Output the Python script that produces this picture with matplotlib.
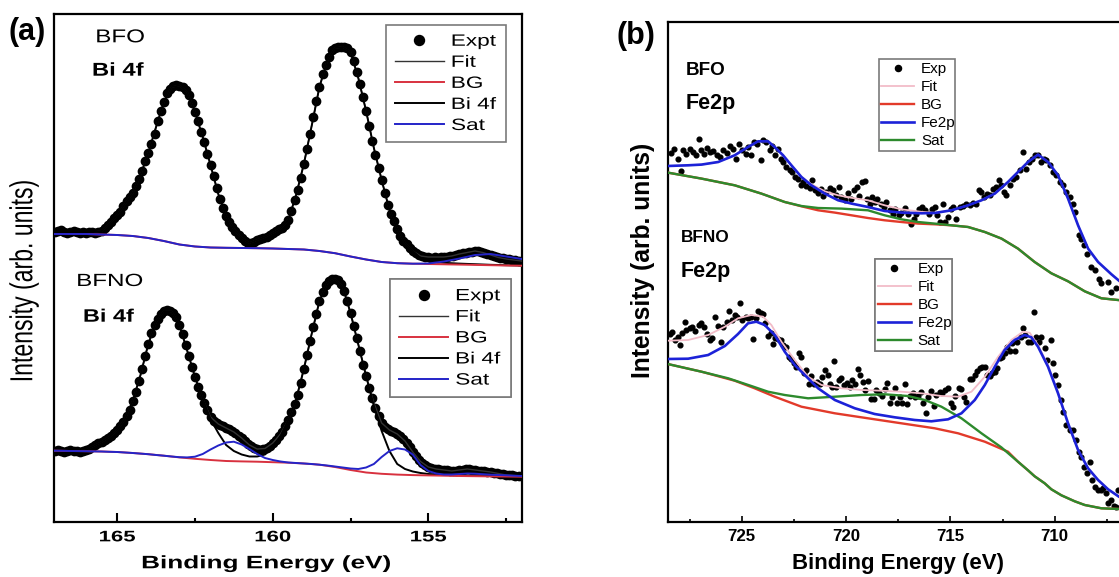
import numpy as np
import matplotlib
matplotlib.use("Agg")
import matplotlib.pyplot as plt
from matplotlib.patheffects import AbstractPathEffect
from matplotlib.transforms import Affine2D
from matplotlib.ticker import FixedLocator

plt.rcParams['font.family'] = ['Liberation Sans', 'DejaVu Sans']

W, H = 1119, 577

# ---------------------------------------------------------------------------
# (a) Bi 4f core level.  Energies in eV, intensities in arbitrary units.
# ---------------------------------------------------------------------------
bi_grid_fine = np.linspace(167.0, 152.0, 151)    # 0.1 eV measurement step
bi_grid_mid = np.linspace(167.0, 152.0, 61)      # 0.25 eV
bi_grid_coarse = np.linspace(167.0, 152.0, 31)   # 0.5 eV

bfo_bi_expt = [
    290, 291, 292, 290, 289, 290, 291, 290, 289, 290, 289, 290, 290, 289, 290, 291,
    294, 297, 300, 304, 307, 310, 316, 321, 325, 329, 336, 343, 351, 361, 369,
    378, 388, 401, 411, 420, 429, 433, 436, 437, 436.5, 435, 432, 427, 419, 410,
    401, 390, 380, 368, 357, 346, 334, 323, 314, 306, 300, 295, 291, 287, 284,
    281, 279, 279, 280, 282, 283, 284, 285, 287, 289,
    291, 293, 294, 297, 302, 311, 322, 332, 344, 358, 373, 388, 405, 421, 435,
    448, 457, 465, 472, 474, 475, 475, 475, 474, 470, 461, 450, 438, 425, 411,
    396, 381, 367, 354, 342, 329, 317, 308, 301, 293, 286, 281, 278, 274, 271,
    269, 267, 266, 265, 265,
    264, 265, 264, 265, 265, 265, 266, 266, 267, 268, 269, 269, 270, 270, 271,
    271, 270, 269, 268, 267, 266, 265, 264, 264, 263, 263, 262, 262, 261, 261,
]
bfo_bi_fit = [
    290, 290, 290, 290, 290, 290, 291, 298, 307, 318, 329, 347, 369, 395, 420,
    435, 436.5, 430, 410, 385, 357, 328, 306, 293, 284, 279, 282, 285, 289, 293.5,
    302, 327, 358, 396, 435, 461, 474, 475, 470, 444, 411, 374, 342, 312, 293,
    279, 271, 266, 265, 265, 265, 266, 268, 269.5, 271, 269.5, 267, 264.5, 263,
    262, 261,
]
bfo_bi_comp = [
    290, 290, 290, 290, 290, 290, 291, 298, 307, 318, 329, 347, 369, 395, 420,
    435, 436.5, 430, 410, 385, 357, 328, 306, 293, 284, 279, 282, 285, 289, 293.5,
    302, 327, 358, 396, 435, 461, 474, 475, 470, 444, 411, 374, 342, 312, 293,
    279, 271, 264, 261, 259.8, 259.2, 258.8, 258.4, 258.1, 257.8, 257.5, 257.2,
    257, 256.8, 256.6, 256.4,
]
bfo_bi_bg = [
    288, 288, 288, 287.5, 287, 286, 284, 281, 277.5, 275.5, 274.5, 274.2, 274,
    273.8, 273.5, 273, 272.5, 271, 268.8, 265.5, 262.5, 260, 258.8, 258.3, 258,
    257.7, 257.4, 257.1, 256.8, 256.5, 256.3,
]
bfo_bi_sat = [
    288, 288, 288, 287.5, 287, 286, 284, 281, 277.5, 275.5, 274.5, 274.2, 274,
    273.8, 273.5, 273, 272.5, 271, 268.8, 265.5, 262.5, 260, 258.8, 258.3, 258.5,
    260.5, 263.5, 267, 268, 265.5, 263,
]

bfno_bi_expt = [
    71, 72, 71, 70, 71, 72, 71, 71, 70, 71, 72,
    73, 75, 77, 79, 80, 82, 84, 86, 89, 92,
    96, 100, 106, 112, 121, 130, 141, 153, 166, 178,
    189, 197, 203, 208, 211, 212, 211.5, 209, 205, 197,
    188, 177, 166, 155, 145, 135, 127, 119, 112, 105,
    101, 99, 97, 96, 94, 93, 91, 89, 86, 84,
    81, 78, 76, 74, 73, 72.5, 73, 74, 76, 79,
    82, 86, 90, 96, 102, 110, 118, 127, 139, 153,
    167, 181, 195, 208, 221, 230, 237, 241, 243, 243,
    242, 238, 231, 221, 209, 196, 184, 171, 157, 146,
    134, 124, 114, 106, 99, 95, 93, 91, 90, 88,
    86, 83, 79, 75, 70, 66, 62, 59, 57, 55,
    54, 53, 53, 52, 52, 52, 51, 51, 51, 52,
    52, 53, 53, 52, 52, 51, 51, 51, 50, 50,
    49, 49, 48, 48, 47, 47, 47, 46, 46, 46,
]
bfno_bi_fit = [
    71, 71, 71, 71, 72, 76, 80, 85, 92, 103, 121, 147, 178, 200, 211, 210.5,
    197, 171.5, 145, 123, 105, 98, 94, 90, 84, 77, 73, 73.5, 79, 88, 102, 122.5,
    153, 188, 221, 239, 243, 235, 209, 177.5, 146, 119, 99, 92, 88, 81, 70, 60.5,
    55, 53, 52, 51, 52, 53, 52, 51, 50, 48.5, 47, 46.5, 46,
]
bfno_bi_comp = [
    71, 71, 71, 71, 72, 76, 80, 85, 92, 103, 121, 147, 178, 200, 211, 210.5,
    197, 171.5, 145, 123,
    103, 89, 77, 71, 67.5, 65.5, 65.5, 67.5, 74, 86,
    102, 122.5, 153, 188, 221, 239, 243, 235, 209, 177.5, 146,
    116, 91, 71, 58, 53, 50.5, 49, 48, 47.5, 47.2, 47, 46.8, 46.6, 46.4, 46.2,
    46, 45.9, 45.8, 45.7, 45.6,
]
bfno_bi_bg = [
    71.3, 71, 70.8, 70.5, 70, 69, 67.8, 66.3, 64.6, 63.2, 62, 61, 60.6, 60.3,
    59.8, 59.3, 58.5, 57.3, 55, 52, 49.5, 48.2, 47.4, 46.9, 46.6, 46.3, 46, 45.8,
    45.6, 45.5, 45.3,
]
bfno_bi_sat = [
    71.3, 71.2, 71, 70.9, 70.8, 70.6, 70.5, 70.2, 70, 69.5, 69, 68.4, 67.8, 67,
    66.3, 65.5, 64.8, 64.6, 65.3, 68, 72.5, 76.5, 79.5, 80.3, 77.5, 73, 68, 64,
    62, 60.5, 59.5, 59, 58.5, 58, 57.3, 56.5, 55.5, 54.5, 53.5, 53, 54.5, 58, 65,
    71, 73.7, 72.5, 67.5, 57, 51, 48.5, 47.5, 47.5, 48, 48.5, 48.3, 47.8, 47.3,
    47, 46.7, 46.3, 46,
]

# ---------------------------------------------------------------------------
# (b) Fe 2p core level.
# ---------------------------------------------------------------------------
bfo_fe_exp_e = [
    728.40, 728.24, 728.08, 727.92, 727.81, 727.65, 727.49, 727.33, 727.17, 727.06,
    726.93, 726.80, 726.69, 726.53, 726.37, 726.21, 726.05, 725.89, 725.73, 725.57,
    725.41, 725.26, 725.14, 724.98, 724.82, 724.70, 724.54, 724.41, 724.25, 724.09,
    723.98, 723.82, 723.66, 723.55, 723.39, 723.26, 723.13, 723.02, 722.86, 722.70,
    722.59, 722.46, 722.30, 722.17, 722.06, 721.90, 721.74, 721.63, 721.50, 721.34,
    721.21, 721.09, 720.94, 720.78, 720.62, 720.46, 720.35, 720.22, 720.06, 719.90,
    719.78, 719.62, 719.50, 719.39, 719.26, 719.11, 718.98, 718.87, 718.75, 718.63,
    718.50, 718.34, 718.18, 718.07, 717.91, 717.75, 717.64, 717.48, 717.35, 717.16,
    717.03, 716.90, 716.74, 716.63, 716.52, 716.36, 716.20, 716.04, 715.88, 715.75,
    715.62, 715.51, 715.35, 715.24, 715.11, 714.98, 714.87, 714.71, 714.55, 714.39,
    714.23, 714.07, 713.91, 713.75, 713.64, 713.51, 713.39, 713.23, 713.10, 712.95,
    712.80, 712.68, 712.56, 712.43, 712.32, 712.16, 712.00, 711.84, 711.68, 711.52,
    711.36, 711.25, 711.09, 710.96, 710.80, 710.64, 710.51, 710.40, 710.24, 710.08,
    709.92, 709.76, 709.60, 709.44, 709.28, 709.12, 709.01, 708.85, 708.75, 708.59,
    708.43, 708.27, 708.08, 707.89, 707.76, 707.44, 707.28, 707.04,
]
bfo_fe_exp_i = [
    369.6, 373.6, 363.6, 351.0, 372.0, 368.6, 373.6, 370.3, 367.0, 383.0,
    372.0, 368.6, 374.3, 370.3, 371.0, 367.0, 365.3, 372.0, 369.6, 376.3,
    373.0, 363.6, 378.3, 372.0, 368.6, 375.3, 367.0, 380.3, 378.6, 362.0,
    382.0, 380.3, 372.0, 376.3, 367.0, 373.6, 363.6, 360.3, 355.3, 352.0,
    350.3, 345.3, 343.6, 337.0, 340.3, 336.3, 334.3, 342.0, 332.0, 329.6,
    333.6, 326.3, 330.3, 334.3, 332.0, 327.0, 335.3, 325.3, 322.0, 329.6,
    323.6, 332.0, 335.3, 326.3, 340.3, 341.0, 323.6, 318.6, 325.3, 320.3,
    323.6, 318.6, 315.3, 320.3, 312.0, 308.6, 313.6, 307.0, 309.6, 314.3,
    308.6, 298.6, 303.6, 308.6, 313.6, 315.3, 312.0, 308.6, 313.6, 315.3,
    307.0, 300.3, 318.6, 300.3, 305.3, 313.6, 315.3, 303.6, 315.3, 316.3,
    318.6, 317.6, 319.6, 318.6, 332.0, 330.3, 325.3, 328.6, 327.0, 333.6,
    335.3, 342.0, 337.0, 330.3, 327.0, 337.0, 343.6, 345.3, 352.0, 370.3,
    353.6, 360.3, 363.6, 367.0, 367.6, 360.3, 363.6, 362.0, 357.0, 350.3,
    347.0, 340.3, 337.0, 330.3, 325.3, 318.6, 310.3, 287.0, 283.6, 277.0,
    268.6, 255.3, 252.0, 243.6, 239.0, 240.6, 230.6, 233.9,
]
bfo_fe_line_e = [
    728.55, 727.57, 726.93, 726.13, 725.34, 724.70, 724.22, 723.74, 723.42, 723.02,
    722.62, 722.14, 721.66, 721.02, 720.38, 719.74, 718.95, 718.15, 717.35, 716.39,
    715.75, 714.95, 714.15, 713.51, 712.87, 712.24, 711.76, 711.28, 710.80, 710.32,
    709.84, 709.36, 708.88, 708.40, 707.92, 707.28, 706.6,
]
bfo_fe_fe2p = [
    356.3, 357, 357.7, 360.3, 367, 375.3, 381, 381, 375.3, 367,
    357, 345.3, 337, 328.7, 322, 318.7, 315.3, 311.3, 309.7, 309,
    309.3, 312, 317, 322, 328.7, 340.3, 350.3, 360.3, 367.7, 360.3,
    347, 323.7, 297, 273.7, 260.3, 248, 236,
]
bfo_fe_fit = [
    356.3, 357, 357.7, 360.3, 367, 375.3, 381, 381, 375.3, 367,
    357, 345.3, 338, 331, 327, 324.5, 322, 317, 313, 310.5,
    309.5, 312, 317, 322, 328.7, 340.3, 350.3, 360.3, 367.7, 360.3,
    347, 323.7, 297, 273.7, 260.3, 248, 236,
]
bfo_fe_sat_e = [
    728.55, 726.93, 725.34, 724.06, 722.94, 722.14, 721.34, 720.22, 718.95, 718.15,
    717.35, 716.55, 715.75, 714.95, 714.15, 713.35, 712.55, 711.76, 710.96, 710.16,
    709.36, 708.56, 707.76, 706.6,
]
bfo_fe_sat = [
    349.7, 343.7, 337, 328.7, 320.3, 316.3, 314.3, 313.7, 312, 307,
    303, 300.3, 298.7, 297, 295.3, 290.3, 283.7, 273.7, 260.3, 249,
    241, 231, 224, 221.5,
]
bfo_fe_bg_e = [
    728.55, 726.93, 725.34, 724.06, 722.94, 722.14, 721.34, 720.54, 719.74, 718.95,
    718.15, 717.35, 716.55, 715.75, 714.95, 714.15, 713.35, 712.55, 711.76, 710.96,
    710.16, 709.36, 708.56, 707.76, 706.6,
]
bfo_fe_bg = [
    349.7, 343.7, 337, 328.7, 320.3, 316, 312, 309.7, 307, 304.3,
    302, 300.3, 298.7, 298, 297, 295.3, 290.3, 283.7, 273.7, 260.3,
    249, 241, 231, 224, 221.5,
]

bfno_fe_exp_e = [
    728.45, 728.34, 728.21, 728.08, 727.97, 727.86, 727.73, 727.65, 727.49, 727.38,
    727.22, 727.06, 726.93, 726.80, 726.69, 726.53, 726.42, 726.26, 726.13, 726.01,
    725.89, 725.73, 725.62, 725.49, 725.34, 725.21, 725.10, 724.98, 724.82, 724.70,
    724.57, 724.44, 724.34, 724.22, 724.09, 723.98, 723.87, 723.74, 723.61, 723.50,
    723.39, 723.26, 723.13, 723.02, 722.86, 722.75, 722.62, 722.49, 722.38, 722.27,
    722.14, 722.01, 721.90, 721.79, 721.66, 721.53, 721.41, 721.26, 721.13, 721.02,
    720.89, 720.78, 720.67, 720.59, 720.46, 720.35, 720.22, 720.10, 719.97, 719.82,
    719.71, 719.55, 719.42, 719.33, 719.18, 719.07, 718.95, 718.79, 718.66, 718.55,
    718.43, 718.27, 718.15, 718.02, 717.91, 717.80, 717.67, 717.54, 717.43, 717.32,
    717.19, 717.06, 716.95, 716.79, 716.68, 716.55, 716.42, 716.29, 716.15, 716.07,
    715.91, 715.78, 715.67, 715.51, 715.40, 715.24, 715.11, 714.98, 714.87, 714.76,
    714.60, 714.47, 714.34, 714.23, 714.07, 713.96, 713.83, 713.71, 713.59, 713.48,
    713.35, 713.23, 713.11, 713.00, 712.88, 712.75, 712.64, 712.52, 712.40, 712.27,
    712.16, 712.04, 711.92, 711.79, 711.63, 711.52, 711.41, 711.28, 711.12, 710.99,
    710.88, 710.77, 710.64, 710.48, 710.35, 710.19, 710.08, 709.97, 709.84, 709.71,
    709.60, 709.44, 709.28, 709.12, 708.96, 708.85, 708.72, 708.59, 708.43, 708.32,
    708.21, 708.08, 707.92, 707.80, 707.68, 707.52, 707.44, 707.28, 707.16, 707.04,
    706.96,
]
bfno_fe_exp_i = [
    188.3, 190.6, 182.3, 185.6, 177.3, 189.6, 200.6, 192.3, 194.0, 195.6,
    191.6, 197.3, 199.0, 195.0, 188.3, 182.3, 184.0, 205.0, 196.3, 180.6,
    195.6, 200.6, 211.6, 202.3, 207.3, 205.6, 219.0, 202.3, 205.6, 204.0,
    205.0, 183.0, 204.0, 211.6, 209.0, 208.3, 199.0, 186.3, 189.6, 178.3,
    184.0, 183.0, 182.3, 177.3, 175.6, 165.0, 163.0, 159.0, 155.0, 169.0,
    165.6, 149.0, 152.3, 138.3, 146.3, 138.3, 140.6, 138.3, 145.0, 152.3,
    147.3, 138.3, 135.0, 161.6, 135.6, 142.3, 144.0, 137.3, 139.0, 135.0,
    142.3, 138.3, 153.0, 147.3, 140.6, 132.3, 141.6, 123.0, 123.0, 132.3,
    129.0, 126.3, 133.0, 139.6, 119.0, 125.6, 134.6, 119.0, 125.6, 119.0,
    138.3, 118.3, 126.3, 129.0, 125.6, 126.3, 130.6, 119.0, 109.6, 125.6,
    131.6, 116.3, 127.3, 130.6, 129.6, 132.3, 134.0, 119.0, 115.6, 126.3,
    134.0, 133.6, 125.0, 120.6, 143.0, 143.0, 147.3, 151.6, 154.0, 155.0,
    155.0, 147.3, 146.3, 149.6, 150.3, 154.0, 164.0, 165.6, 169.0, 175.0,
    171.6, 179.0, 171.6, 180.6, 185.6, 194.0, 187.3, 180.6, 180.6, 210.6,
    185.6, 180.6, 185.0, 174.0, 162.3, 182.3, 159.0, 147.3, 137.3, 122.3,
    110.6, 97.3, 92.3, 92.3, 82.3, 70.6, 65.6, 55.6, 49.0, 60.6,
    42.3, 35.6, 32.3, 32.3, 34.0, 29.0, 19.0, 22.3, 16.3, 15.6, 32.3,
]
bfno_fe_fe2p_e = [
    728.55, 727.57, 726.61, 725.81, 725.18, 724.70, 724.30, 723.90, 723.42, 722.94,
    722.46, 721.98, 721.34, 720.54, 719.58, 718.63, 717.67, 716.71, 715.91, 715.11,
    714.47, 713.83, 713.35, 712.87, 712.40, 711.92, 711.44, 711.12, 710.80, 710.32,
    709.84, 709.36, 708.88, 708.40, 707.92, 707.44, 706.92, 706.6,
]
bfno_fe_fe2p = [
    163.3, 163.6, 167.3, 176.3, 188.3, 199, 200.6, 197.3, 187.3, 170.6,
    157.3, 147.3, 134, 122.3, 114, 108.3, 105, 102.3, 101, 103,
    109, 122.3, 137.3, 155.6, 172.3, 182.3, 187.3, 185, 175.6, 155.6,
    129, 99, 72.3, 54, 42.3, 33, 25.6, 22,
]
bfno_fe_fit_e = [
    728.55, 727.57, 726.61, 725.81, 725.18, 724.54, 723.98, 723.58, 723.10, 722.46,
    721.82, 721.18, 720.22, 719.26, 718.31, 717.35, 716.39, 715.43, 714.63, 713.99,
    713.35, 712.71, 712.08, 711.52, 711.20, 710.80, 710.32, 709.84, 709.36, 708.88,
    708.40, 707.92, 707.44, 706.92, 706.6,
]
bfno_fe_fit = [
    181.6, 182.3, 187.3, 195.6, 204, 207.3, 205.6, 197.3, 180.6, 162.3,
    145.6, 137.3, 134, 132.3, 131.6, 130.6, 129, 126.3, 125.6, 130.6,
    145.6, 165.6, 182.3, 190.6, 189.6, 177.3, 157, 130, 99.5, 72.5,
    54, 42.3, 33, 25.6, 22,
]
bfno_fe_sat_e = [
    728.55, 726.93, 725.65, 724.54, 723.74, 722.94, 721.82, 720.54, 719.26, 718.15,
    717.03, 716.23, 715.43, 714.47, 713.51, 712.56, 711.76, 711.28, 710.96, 710.48,
    710.16, 709.68, 709.36, 709.04, 708.56, 707.76, 706.92, 706.6,
]
bfno_fe_sat = [
    158.3, 150.6, 144, 136.3, 130.6, 127.3, 124, 125.6, 127.3, 128,
    126.3, 122.3, 115.6, 104, 89, 75, 60.6, 52, 46, 39,
    33, 27, 24, 21, 17.3, 14, 13.3, 13.2,
]
bfno_fe_bg_e = [
    728.55, 726.93, 725.34, 724.38, 723.42, 722.14, 720.54, 718.95, 717.35, 715.75,
    714.63, 713.35, 712.24, 711.76, 711.28, 710.96, 710.48, 710.16, 709.68, 709.36,
    709.04, 708.56, 707.76, 706.92, 706.6,
]
bfno_fe_bg = [
    158.3, 150.6, 141.6, 134, 125.6, 115.6, 109, 104, 99, 94,
    89, 80.6, 70.6, 60.6, 52, 46, 39, 33, 27, 24,
    21, 17.3, 14, 13.3, 13.2,
]

bi_ticks = [165, 160, 155]
bi_minor = [162.5, 157.5, 152.5]
fe_ticks = [725, 720, 715, 710]
fe_minor = [727.5, 722.5, 717.5, 712.5, 707.5]


class WideGlyphs(AbstractPathEffect):
    """Draw text glyphs widened along the display x direction."""

    def __init__(self, factor, anchor="center"):
        super().__init__()
        self.factor = factor
        self.anchor = anchor

    def draw_path(self, renderer, gc, tpath, affine, rgbFace=None):
        box = tpath.get_extents(affine)
        if self.anchor == "left":
            x0 = box.x0
        elif self.anchor == "right":
            x0 = box.x1
        else:
            x0 = 0.5 * (box.x0 + box.x1)
        widen = Affine2D().translate(-x0, 0).scale(self.factor, 1.0).translate(x0, 0)
        renderer.draw_path(gc, tpath, affine + widen, rgbFace)


def place(x0, y0, x1, y1):
    return [x0 / W, 1 - y1 / H, (x1 - x0) / W, (y1 - y0) / H]


def fpos(px, py):
    return px / W, 1 - py / H


fig = plt.figure(figsize=(W / 100, H / 100), dpi=100)
ax_a = fig.add_axes(place(54, 14, 522, 522))
ax_b = fig.add_axes(place(667.7, 22, 1125, 522.3))

BLACK = '#000000'
RED_A = '#d8313f'
BLUE_A = '#2424c8'
RED_B = '#e23a2a'
BLUE_B = '#1c22d8'
GREEN_B = '#2d8a2d'
PINK_B = '#f2bcc8'

# ----------------------------- panel (a) -----------------------------------
def bi_spectrum(ax, expt, fit, comp, bg, sat, sat_grid):
    h_exp, = ax.plot(bi_grid_fine, expt, 'o', ms=6.0, color=BLACK, mec=BLACK, zorder=2)
    h_fit, = ax.plot(bi_grid_mid, fit, '-', lw=1.0, color='#333333', zorder=3)
    h_cmp, = ax.plot(bi_grid_mid, comp, '-', lw=1.4, color=BLACK, zorder=3)
    h_bg, = ax.plot(bi_grid_coarse, bg, '-', lw=1.4, color=RED_A, zorder=4)
    h_sat, = ax.plot(sat_grid, sat, '-', lw=1.4, color=BLUE_A, zorder=5)
    return [h_exp, h_fit, h_bg, h_cmp, h_sat]


top_a = bi_spectrum(ax_a, bfo_bi_expt, bfo_bi_fit, bfo_bi_comp, bfo_bi_bg,
                    bfo_bi_sat, bi_grid_coarse)
bot_a = bi_spectrum(ax_a, bfno_bi_expt, bfno_bi_fit, bfno_bi_comp, bfno_bi_bg,
                    bfno_bi_sat, bi_grid_mid)

ax_a.set_xlim(167.03, 151.99)
ax_a.set_ylim(0, 508)

labels_a = ['Expt', 'Fit', 'BG', 'Bi 4f', 'Sat']
for handles, (ax0, top) in ((top_a, (0.7088, 0.9789)), (bot_a, (0.7179, 0.4778))):
    leg = ax_a.legend(handles, labels_a, loc='upper left',
                      bbox_to_anchor=(ax0, top, 0.258, 0.0), mode='expand',
                      borderaxespad=0, fontsize=11.8, numpoints=1, markerscale=1.2,
                      handlelength=3.0, handletextpad=0.45, labelspacing=0.37,
                      borderpad=0.55, fancybox=False, framealpha=1,
                      edgecolor='#7a7a7a')
    leg.get_frame().set_linewidth(1.2)
    for t in leg.get_texts():
        t.set_path_effects([WideGlyphs(1.38, 'left')])
    ax_a.add_artist(leg)

# ----------------------------- panel (b) -----------------------------------
def fe_spectrum(ax, exp_e, exp_i, fit_e, fit, bg_e, bg, fe_e, fe, sat_e, sat):
    h_exp, = ax.plot(exp_e, exp_i, 'o', ms=3.4, color=BLACK, mec=BLACK, zorder=2)
    h_fit, = ax.plot(fit_e, fit, '-', lw=1.3, color=PINK_B, zorder=3)
    h_bg, = ax.plot(bg_e, bg, '-', lw=1.7, color=RED_B, zorder=4)
    h_sat, = ax.plot(sat_e, sat, '-', lw=1.7, color=GREEN_B, zorder=5)
    h_fe, = ax.plot(fe_e, fe, '-', lw=1.9, color=BLUE_B, zorder=6)
    return [h_exp, h_fit, h_bg, h_fe, h_sat]


top_b = fe_spectrum(ax_b, bfo_fe_exp_e, bfo_fe_exp_i, bfo_fe_line_e, bfo_fe_fit,
                    bfo_fe_bg_e, bfo_fe_bg, bfo_fe_line_e, bfo_fe_fe2p,
                    bfo_fe_sat_e, bfo_fe_sat)
bot_b = fe_spectrum(ax_b, bfno_fe_exp_e, bfno_fe_exp_i, bfno_fe_fit_e, bfno_fe_fit,
                    bfno_fe_bg_e, bfno_fe_bg, bfno_fe_fe2p_e, bfno_fe_fe2p,
                    bfno_fe_sat_e, bfno_fe_sat)

ax_b.set_xlim(728.55, 706.63)
ax_b.set_ylim(0, 500.3)

labels_b = ['Exp', 'Fit', 'BG', 'Fe2p', 'Sat']
for handles, (bx0, top) in ((top_b, (0.4614, 0.9254)), (bot_b, (0.4540, 0.5257))):
    leg = ax_b.legend(handles, labels_b, loc='upper left',
                      bbox_to_anchor=(bx0, top, 0.1676, 0.0), mode='expand',
                      borderaxespad=0, fontsize=11, numpoints=1, markerscale=1.3,
                      handlelength=2.15, handletextpad=0.45, labelspacing=0.26,
                      borderpad=0.18, fancybox=False, framealpha=1,
                      edgecolor='#7a7a7a')
    leg.get_frame().set_linewidth(1.2)
    ax_b.add_artist(leg)

# ----------------------------- axes styling --------------------------------
for ax in (ax_a, ax_b):
    for side in ('top', 'bottom', 'left', 'right'):
        ax.spines[side].set_linewidth(1.6)
    ax.tick_params(axis='y', which='both', left=False, right=False,
                   labelleft=False)
    ax.tick_params(axis='x', which='both', direction='in', top=False)

ax_a.xaxis.set_major_locator(FixedLocator(bi_ticks))
ax_a.xaxis.set_minor_locator(FixedLocator(bi_minor))
ax_a.tick_params(axis='x', which='major', length=6.5, width=1.5, pad=6)
ax_a.tick_params(axis='x', which='minor', length=3.0, width=1.5)
tick_texts = ax_a.set_xticklabels([str(v) for v in bi_ticks], fontsize=11,
                                  fontweight='bold')
for t in tick_texts:
    t.set_path_effects([WideGlyphs(1.45, 'center')])

ax_b.xaxis.set_major_locator(FixedLocator(fe_ticks))
ax_b.xaxis.set_minor_locator(FixedLocator(fe_minor))
ax_b.tick_params(axis='x', which='major', length=4.3, width=1.2, pad=4.5)
ax_b.tick_params(axis='x', which='minor', length=2.4, width=1.2)
ax_b.set_xticklabels([str(v) for v in fe_ticks], fontsize=12.2,
                     fontweight='bold')

xl = ax_a.set_xlabel('Binding Energy (eV)', fontsize=13, fontweight='bold',
                     va='baseline')
ax_a.xaxis.set_label_coords(0.4528, -0.0911)
xl.set_path_effects([WideGlyphs(1.45, 'center')])

ax_b.set_xlabel('Binding Energy (eV)', fontsize=16, fontweight='bold',
                va='baseline')
ax_b.xaxis.set_label_coords(0.5032, -0.0933)

yl = ax_a.set_ylabel('Intensity (arb. units)', fontsize=16.6, va='center')
ax_a.yaxis.set_label_coords(-0.0652, 0.4734)
yl.set_path_effects([WideGlyphs(1.38, 'center')])

ax_b.set_ylabel('Intensity (arb. units)', fontsize=17.7, fontweight='bold',
                va='center')
ax_b.yaxis.set_label_coords(-0.054, 0.5233)

# ----------------------------- annotations ---------------------------------
notes_a = [
    ('BFO', 95.7, 42.3, 13.4, 'normal', 1.3),
    ('Bi 4f', 92.3, 75.7, 13.4, 'bold', 1.28),
    ('BFNO', 76.7, 286.0, 12.7, 'normal', 1.37),
    ('Bi 4f', 83.3, 321.7, 13.0, 'bold', 1.3),
]
for txt, px, py, size, weight, wide in notes_a:
    fig.text(*fpos(px, py), txt, fontsize=size, fontweight=weight, ha='left',
             va='baseline', path_effects=[WideGlyphs(wide, 'left')])

notes_b = [
    ('BFO', 685.3, 74.7, 13.6),
    ('Fe2p', 685.3, 109.3, 15.5),
    ('BFNO', 680.7, 242.0, 12.4),
    ('Fe2p', 680.7, 276.7, 15.5),
]
for txt, px, py, size in notes_b:
    fig.text(*fpos(px, py), txt, fontsize=size, fontweight='bold', ha='left',
             va='baseline')

fig.text(*fpos(8, 40), '(a)', fontsize=22, fontweight='bold', ha='left',
         va='baseline')
fig.text(*fpos(617, 44), '(b)', fontsize=22, fontweight='bold', ha='left',
         va='baseline')

fig.savefig('out.png', dpi=100)
